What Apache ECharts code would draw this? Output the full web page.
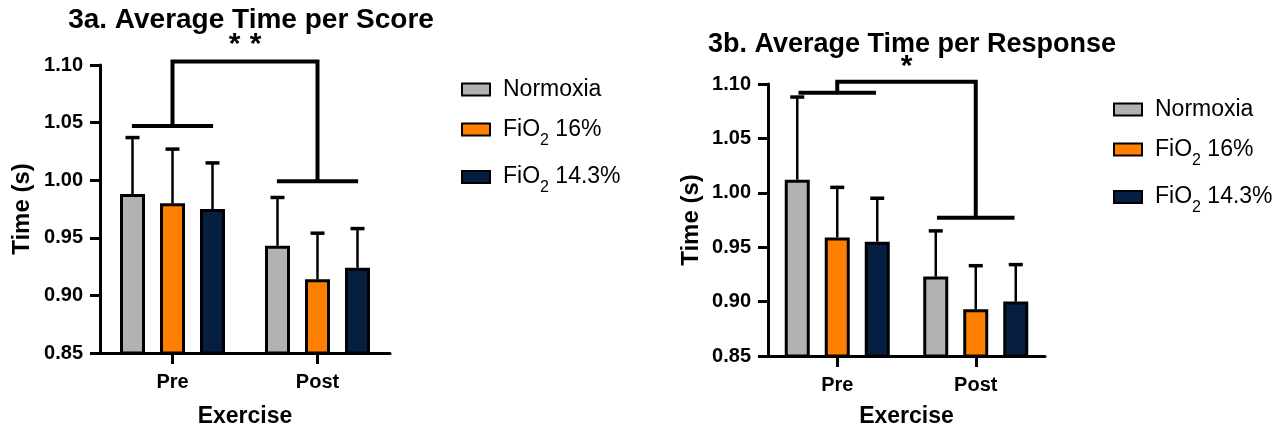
<!DOCTYPE html>
<html><head><meta charset="utf-8">
<script src="https://cdn.jsdelivr.net/npm/echarts@6/dist/echarts.min.js"></script>
<style>html,body{margin:0;padding:0;background:#fff}#c{width:1279px;height:433px}</style>
</head><body><div id="c"></div>
<script>
// ---- data ----
const categories = ['Pre', 'Post'];
const seriesNames = ['Normoxia', 'FiO2 16%', 'FiO2 14.3%'];
const yTicks = [0.85, 0.90, 0.95, 1.00, 1.05, 1.10];
// Chart 3a: Average Time per Score (mean, upper SD)
const a_normoxia = [0.988, 0.943];
const a_fio16 = [0.980, 0.914];
const a_fio143 = [0.975, 0.924];
const a_err_normoxia = [0.049, 0.042];
const a_err_fio16 = [0.047, 0.040];
const a_err_fio143 = [0.040, 0.034];
const a_bracket = {pre: 1.047, top: 1.103, post: 0.999, label: '**'};
// Chart 3b: Average Time per Response
const b_normoxia = [1.012, 0.923];
const b_fio16 = [0.959, 0.893];
const b_fio143 = [0.955, 0.900];
const b_err_normoxia = [0.076, 0.042];
const b_err_fio16 = [0.046, 0.040];
const b_err_fio143 = [0.040, 0.034];
const b_bracket = {pre: 1.092, top: 1.102, post: 0.977, label: '*'};

// ---- style ----
const FONT = 'Liberation Sans, Arial, sans-serif';
const COLORS = ['#b2b2b2', '#ff8000', '#061e40'];
const BAR_W = 25, BAR_GAP = 15;

const chart = echarts.init(document.getElementById('c'));

function yAxis(gi, nameGap) {
  return {
    type: 'value', gridIndex: gi, min: yTicks[0], max: yTicks[yTicks.length - 1], interval: 0.05,
    name: 'Time (s)', nameLocation: 'middle', nameGap: nameGap,
    nameTextStyle: {fontFamily: FONT, fontSize: 24, fontWeight: 'bold', color: '#000'},
    axisLine: {show: true, lineStyle: {color: '#000', width: 3}},
    axisTick: {show: true, length: 10, lineStyle: {color: '#000', width: 3}},
    axisLabel: {fontFamily: FONT, fontSize: 20, fontWeight: 'bold', color: '#000', margin: 17,
      formatter: v => v.toFixed(2)},
    splitLine: {show: false}
  };
}
function xAxis(gi, nameGap) {
  return {
    type: 'category', gridIndex: gi, data: categories,
    name: 'Exercise', nameLocation: 'middle', nameGap: nameGap,
    nameTextStyle: {fontFamily: FONT, fontSize: 23, fontWeight: 'bold', color: '#000'},
    axisLine: {show: true, lineStyle: {color: '#000', width: 3}},
    axisTick: {show: true, alignWithLabel: true, length: 11, lineStyle: {color: '#000', width: 3}},
    axisLabel: {fontFamily: FONT, fontSize: 20, fontWeight: 'bold', color: '#000', margin: 19}
  };
}
function bars(gi, vals) {
  return vals.map((v, k) => ({
    type: 'bar', name: seriesNames[k], xAxisIndex: gi, yAxisIndex: gi, data: v,
    barWidth: BAR_W, barGap: '60%',
    itemStyle: {color: COLORS[k], borderColor: '#000', borderWidth: 3},
    z: 2
  }));
}
function errSeries(gi, vals, errs) {
  const data = [];
  vals.forEach((v, k) => v.forEach((m, i) => data.push([i, m, k, errs[k][i]])));
  return {
    type: 'custom', xAxisIndex: gi, yAxisIndex: gi, data: data, clip: false, z: 3,
    encode: {x: 0, y: 1},
    renderItem: function (params, api) {
      const off = (api.value(2) - 1) * (BAR_W + BAR_GAP);
      const p0 = api.coord([api.value(0), api.value(1)]);
      const p1 = api.coord([api.value(0), api.value(1) + api.value(3)]);
      const x = p0[0] + off;
      return {type: 'group', children: [
        {type: 'line', shape: {x1: x, y1: p0[1], x2: x, y2: p1[1]}, style: {stroke: '#000', lineWidth: 2.5}},
        {type: 'line', shape: {x1: x - 7, y1: p1[1], x2: x + 7, y2: p1[1]}, style: {stroke: '#000', lineWidth: 3.5}}
      ]};
    }
  };
}
function bracketSeries(gi, b, textGap, fontSize) {
  return {
    type: 'custom', xAxisIndex: gi, yAxisIndex: gi, clip: false, z: 4,
    data: [[0, b.pre, 1, b.post, b.top]],
    encode: {x: [0, 2], y: [1, 3, 4]},
    renderItem: function (params, api) {
      const p0 = api.coord([0, api.value(1)]);
      const p1 = api.coord([1, api.value(3)]);
      const top = api.coord([0, api.value(4)])[1];
      const half = api.size([1, 0])[0] * 0.28;
      const st = {stroke: '#000', lineWidth: 4, fill: null};
      const children = [
        {type: 'line', shape: {x1: p0[0] - half, y1: p0[1], x2: p0[0] + half, y2: p0[1]}, style: st},
        {type: 'line', shape: {x1: p1[0] - half, y1: p1[1], x2: p1[0] + half, y2: p1[1]}, style: st},
        {type: 'polyline', shape: {points: [[p0[0], p0[1]], [p0[0], top], [p1[0], top], [p1[0], p1[1]]]}, style: st}
      ];
      const chars = b.label.split('');
      const mid = (p0[0] + p1[0]) / 2;
      chars.forEach((c, i) => children.push({
        type: 'text', x: mid + (i - (chars.length - 1) / 2) * 21, y: top - textGap,
        style: {text: c, fontFamily: FONT, fontSize: fontSize, fontWeight: 'bold', fill: '#000',
          align: 'center', verticalAlign: 'middle'}
      }));
      return {type: 'group', children: children};
    }
  };
}
function legend(left, top) {
  return {
    orient: 'vertical', left: left, top: top, itemWidth: 28, itemHeight: 12, itemGap: 17,
    icon: 'rect', selectedMode: false, data: seriesNames,
    itemStyle: {borderColor: '#000', borderWidth: 2},
    formatter: function (name) {
      if (name.indexOf('FiO2') === 0) return '{n|FiO}{s|2}{n|' + name.slice(4) + '}';
      return '{n|' + name + '}';
    },
    textStyle: {fontFamily: FONT, fontSize: 23, color: '#000', padding: [0, 0, 0, 8],
      rich: {n: {fontFamily: FONT, fontSize: 23, color: '#000', lineHeight: 24},
             s: {fontFamily: FONT, fontSize: 16, color: '#000', lineHeight: 16, verticalAlign: 'bottom', padding: [0, 0, -7, 0]}}}
  };
}

chart.setOption({
  animation: false,
  title: [
    {text: '3a. Average Time per Score', left: 246, top: 1, textAlign: 'center',
      textStyle: {fontFamily: FONT, fontSize: 28, fontWeight: 'bold', color: '#000'}},
    {text: '3b. Average Time per Response', left: 907, top: 26, textAlign: 'center',
      textStyle: {fontFamily: FONT, fontSize: 27, fontWeight: 'bold', color: '#000'}}
  ],
  legend: [legend(456, 73), legend(1108, 93)],
  grid: [
    {left: 100, right: 1279 - 390, top: 65, bottom: 433 - 355},
    {left: 768, right: 1279 - 1045, top: 84, bottom: 433 - 360}
  ],
  xAxis: [xAxis(0, 52), xAxis(1, 49)],
  yAxis: [yAxis(0, 66), yAxis(1, 65)],
  series: [].concat(
    bars(0, [a_normoxia, a_fio16, a_fio143]),
    [errSeries(0, [a_normoxia, a_fio16, a_fio143], [a_err_normoxia, a_err_fio16, a_err_fio143]),
     bracketSeries(0, a_bracket, 17, 30)],
    bars(1, [b_normoxia, b_fio16, b_fio143]),
    [errSeries(1, [b_normoxia, b_fio16, b_fio143], [b_err_normoxia, b_err_fio16, b_err_fio143]),
     bracketSeries(1, b_bracket, 15, 30)]
  )
});
</script></body></html>
